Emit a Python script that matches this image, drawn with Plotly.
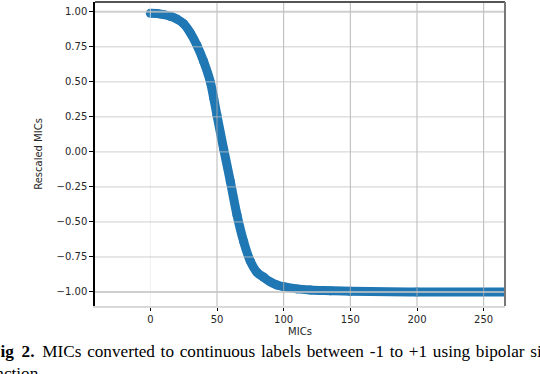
import plotly.graph_objects as go

# values
mics = [0, 5, 10, 15, 20, 25, 30, 35, 40, 45, 47.5, 50, 55, 60, 65, 70, 75,
        80, 85, 90, 95, 100, 110, 120, 135, 150, 200, 280]
rescaled = [0.99, 0.988, 0.98, 0.968, 0.948, 0.915, 0.85, 0.76, 0.645, 0.50,
            0.385, 0.26, 0.02, -0.21, -0.45, -0.64, -0.78, -0.86, -0.895,
            -0.928, -0.95, -0.962, -0.978, -0.986, -0.991, -0.995, -1.0, -1.0]

x_ticks = [0, 50, 100, 150, 200, 250]
y_ticks = [1.0, 0.75, 0.5, 0.25, 0.0, -0.25, -0.5, -0.75, -1.0]
y_tick_text = ["1.00", "0.75", "0.50", "0.25", "0.00",
               "\u22120.25", "\u22120.50", "\u22120.75", "\u22121.00"]

# justified caption line in the source: spaces a bit wider than normal
caption_words = ["MICs", "converted", "to", "continuous", "labels", "between",
                 "-1", "to", "+1", "using", "bipolar", "sigmoid"]
caption_1 = "<b>Fig\u2009 2.</b>\u2009 " + " \u200a".join(caption_words)
caption_2 = "function."

BLUE = "#1f77b4"
TICK_FONT = dict(family="DejaVu Sans", size=10, color="#262626")
CAP_FONT = dict(family="Liberation Serif", size=17.2, color="black")


def main():
    fig = go.Figure()
    fig.add_trace(go.Scatter(
        x=mics, y=rescaled, mode="lines+markers",
        line=dict(color=BLUE, width=9, shape="spline", smoothing=1.0),
        marker=dict(color=BLUE, size=9),
        showlegend=False,
    ))

    # grid drawn over the data, like the reference
    shapes = []
    for v in x_ticks:
        col = "rgba(235,235,235,0.8)" if v == 0 else "rgba(170,170,170,0.85)"
        shapes.append(dict(type="line", xref="x", yref="paper", x0=v, x1=v,
                           y0=0, y1=1, layer="above", line=dict(color=col, width=1)))
    for v in y_ticks:
        w = 2 if v in (1.0, -1.0) else 1
        shapes.append(dict(type="line", xref="paper", yref="y", x0=0, x1=1,
                           y0=v, y1=v, layer="above",
                           line=dict(color="rgba(195,195,195,0.8)", width=w)))
    # spines
    shapes.append(dict(type="line", xref="paper", yref="paper", x0=0, x1=1,
                       y0=1, y1=1, layer="above", line=dict(color="#555555", width=2)))
    shapes.append(dict(type="line", xref="paper", yref="paper", x0=1, x1=1,
                       y0=0, y1=1, layer="above", line=dict(color="#777777", width=2)))

    fig.update_layout(
        width=540, height=374,
        margin=dict(l=95, r=35, t=2, b=68),
        paper_bgcolor="white", plot_bgcolor="white",
        shapes=shapes,
        annotations=[
            dict(text=caption_1, xref="paper", yref="paper", x=-0.261, y=-0.113,
                 xanchor="left", yanchor="top", align="left", showarrow=False,
                 font=CAP_FONT),
            dict(text=caption_2, xref="paper", yref="paper", x=-0.282, y=-0.185,
                 xanchor="left", yanchor="top", align="left", showarrow=False,
                 font=CAP_FONT),
        ],
    )
    fig.update_xaxes(
        range=[-41.5, 266], tickvals=x_ticks, showgrid=False, zeroline=False,
        showline=True, linecolor="#d9d9d9", linewidth=2, automargin=False,
        ticks="outside", ticklen=3, tickcolor="black", tickfont=TICK_FONT,
        title=dict(text="MICs", font=TICK_FONT, standoff=4),
    )
    fig.update_yaxes(
        range=[-1.10, 1.07], tickvals=y_ticks, ticktext=y_tick_text,
        showgrid=False, zeroline=False, automargin=False,
        showline=True, linecolor="black", linewidth=1.5,
        ticks="outside", ticklen=4, tickcolor="black", tickfont=TICK_FONT,
        title=dict(text="Rescaled MICs", font=TICK_FONT, standoff=12),
    )
    # page body has a default 8px margin; drop it so the figure sits at 0,0
    fig.write_html("out.html", config={"displayModeBar": False},
                   post_script="document.body.style.margin='0';")


if __name__ == '__main__':
    main()
